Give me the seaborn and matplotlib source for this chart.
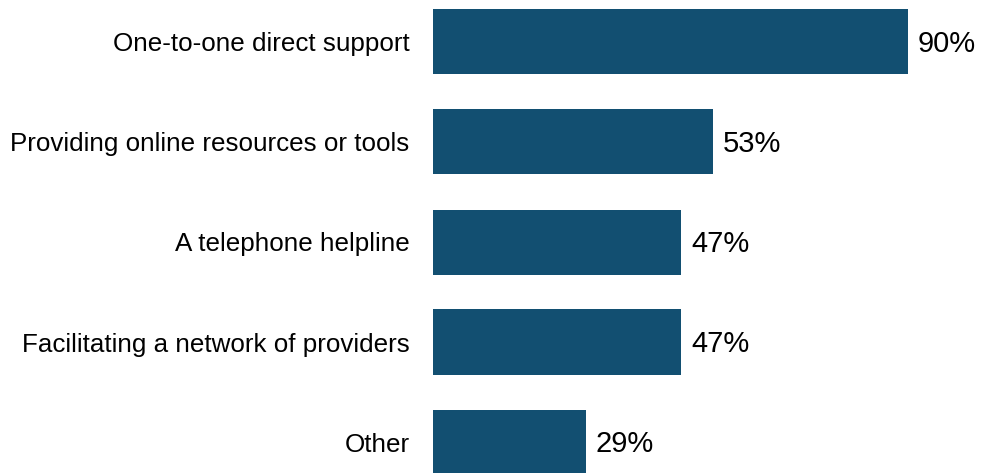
import matplotlib
matplotlib.use('Agg')
import matplotlib.pyplot as plt
import pandas as pd
import seaborn as sns

categorias = ['One-to-one direct support', 'Providing online resources or tools',
              'A telephone helpline', 'Facilitating a network of providers', 'Other']
valores = [90, 53, 47, 47, 29]

df = pd.DataFrame({'categoria': categorias, 'valor': valores})

sns.set_style('white')
plt.rcParams['font.family'] = ['Liberation Sans', 'DejaVu Sans']

fig = plt.figure(figsize=(9.84, 4.73), dpi=100)
ax = fig.add_axes([433 / 984, 0, 1 - 433 / 984, 1])
sns.barplot(data=df, x='valor', y='categoria', color='#124F71', saturation=1,
            width=0.65, linewidth=0, ax=ax)

ax.set_xlim(0, (984 - 433) / 5.28)
ax.set_ylim(4.31, -0.42)
ax.set_xlabel('')
ax.set_ylabel('')
ax.set_xticks([])
ax.tick_params(axis='y', length=0, pad=17, labelsize=18.7, labelcolor='black')
for s in ax.spines.values():
    s.set_visible(False)

# etiquetas de porcentaje
for i, v in enumerate(valores):
    ax.annotate(f'{v}%', xy=(v, i), xytext=(7, -1.5), textcoords='offset points',
                va='center', ha='left', fontsize=21, color='black')

plt.savefig('out.png', dpi=100)
